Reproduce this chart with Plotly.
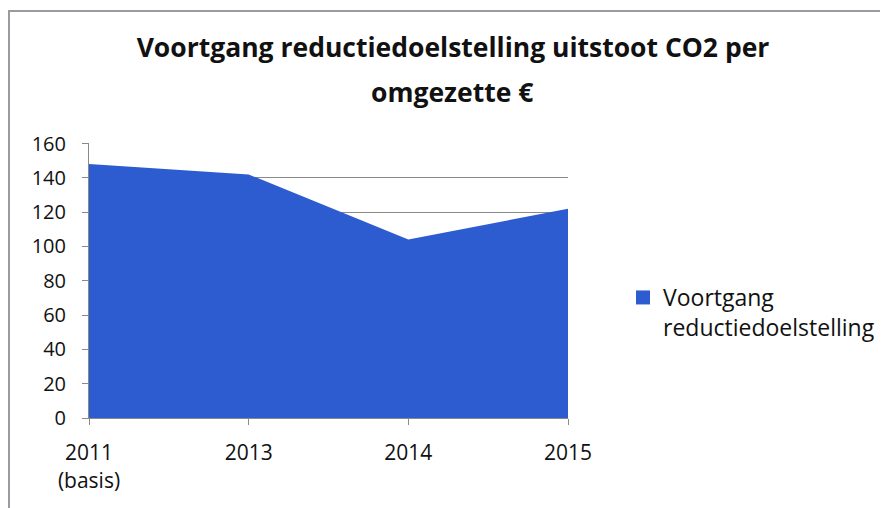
import plotly.graph_objects as go

categories = ["2011<br>(basis)", "2013", "2014", "2015"]
values = [148, 142, 104, 122]
series_name = "Voortgang<br>reductiedoelstelling"
title_line1 = "Voortgang reductiedoelstelling uitstoot CO2 per"
title_line2 = "omgezette €"
y_ticks = [0, 20, 40, 60, 80, 100, 120, 140, 160]

BLUE = "#2d5cd0"
GRID = "#8a8a8a"
FONT = "Open Sans"

# page body adds an 8px offset; work in reference-pixel coordinates
OFF = 8
W, H = 888 - OFF, 508 - OFF
PL, PR, PT, PB = 89, 568, 143, 418  # plot area in reference pixels
L, R, T, B = PL - OFF, W - (PR - OFF), PT - OFF, H - (PB - OFF)
pw, ph = W - L - R, H - T - B

def px_x(x):
    return (x - OFF - L) / pw

def px_y(y):
    return (H - B - (y - OFF)) / ph

fig = go.Figure()
xs = list(range(len(categories)))
fig.add_trace(go.Scatter(
    x=xs, y=values, mode="none", fill="tozeroy", fillcolor=BLUE,
    name=series_name, showlegend=False, hoverinfo="x+y",
))
fig.add_trace(go.Scatter(
    x=[None], y=[None], mode="markers", name=series_name,
    marker=dict(symbol="square", size=14, color=BLUE), showlegend=True,
))

fig.update_layout(
    width=W, height=H,
    margin=dict(l=L, r=R, t=T, b=B),
    paper_bgcolor="white", plot_bgcolor="white",
    font=dict(family=FONT, color="#111111", size=20),
    title=dict(text="<b>" + title_line1 + "</b>", x=(453 - OFF) / W, xanchor="center",
               y=1 - (38 - OFF) / H, yanchor="top", font=dict(size=26.5, family=FONT)),
    annotations=[dict(text="<b>" + title_line2 + "</b>", xref="paper", yref="paper",
                      x=px_x(452), y=px_y(92), xanchor="center", yanchor="middle",
                      showarrow=False, font=dict(size=26.5, family=FONT))],
    legend=dict(xref="container", yref="container", x=(623 - OFF) / W, y=1 - (276 - OFF) / H,
                xanchor="left", yanchor="top", valign="top",
                font=dict(size=23, family=FONT), bgcolor="rgba(0,0,0,0)"),
    shapes=[dict(type="rect", xref="paper", yref="paper",
                 x0=px_x(9), x1=px_x(960), y0=px_y(560), y1=px_y(11),
                 line=dict(color="#9a9aa0", width=2), layer="below")],
    showlegend=True,
)
fig.update_xaxes(
    range=[0, len(categories) - 1], tickvals=xs, ticktext=categories,
    showgrid=False, zeroline=False, showline=True, linecolor=GRID, linewidth=1,
    ticks="outside", ticklen=6, tickcolor=GRID, ticklabelstandoff=10,
    tickfont=dict(size=21),
)
fig.update_yaxes(
    range=[0, 160.3], tickvals=y_ticks, showgrid=True, gridcolor=GRID, gridwidth=1,
    zeroline=False, showline=True, linecolor=GRID, linewidth=1,
    ticks="outside", ticklen=6, tickcolor=GRID, ticklabelstandoff=12,
    tickfont=dict(size=20),
)

fig.write_html("out.html")
